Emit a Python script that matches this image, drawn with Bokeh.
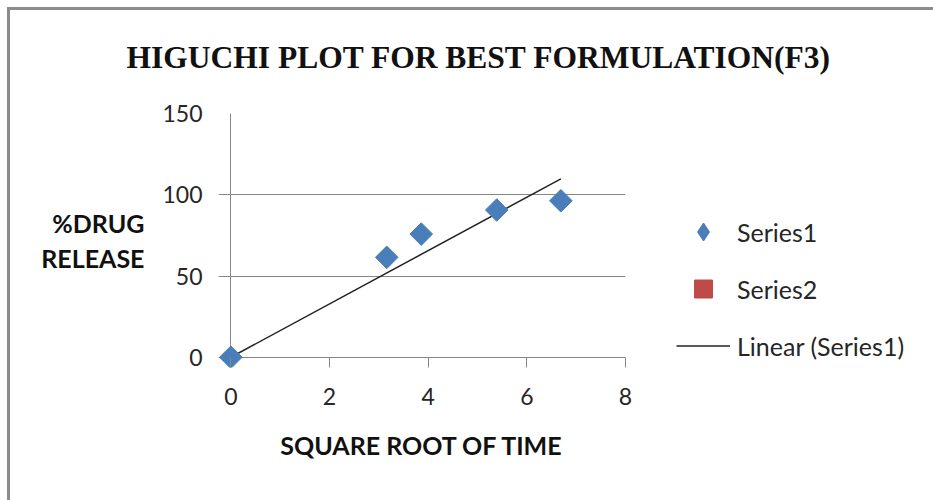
from bokeh.plotting import figure
from bokeh.models import Legend, LegendItem, FixedTicker
from bokeh.embed import file_html
from bokeh.resources import INLINE
import numpy as np
import math

# ---- data ----
sqrt_time = [0, 3.16, 3.86, 5.39, 6.69]
drug_release = [0, 61.5, 75.8, 90.6, 96.3]
series2_x = [float("nan")]   # Series2 is empty in the source chart
series2_y = [float("nan")]
x_ticks = [0, 2, 4, 6, 8]
y_ticks = [0, 50, 100, 150]
title_text = "HIGUCHI PLOT FOR BEST FORMULATION(F3)"
x_label = "SQUARE ROOT OF TIME"
y_label = "%DRUG\nRELEASE"

# linear trend line through the origin (as the spreadsheet trendline shows)
xa = np.array(sqrt_time, dtype=float)
ya = np.array(drug_release, dtype=float)
slope = float((xa * ya).sum() / (xa * xa).sum())
fit_x = [0.0, float(xa.max())]
fit_y = [slope * v for v in fit_x]

GRID = "#868686"
BLUE = "#4a7ebb"
RED = "#be4b48"

p = figure(
    frame_width=407, frame_height=254,
    x_range=(-0.25, 8), y_range=(-6.3, 150),
    output_backend="svg", toolbar_location=None,
    min_border_left=218, min_border_right=308,
    min_border_top=113, min_border_bottom=133,
)
p.background_fill_color = "white"
p.border_fill_color = None
p.outline_line_color = None
p.styles = {
    "background-image": "linear-gradient(#8c8c8c,#8c8c8c), linear-gradient(#8c8c8c,#8c8c8c)",
    "background-size": "3px 493px, 926px 3px",
    "background-position": "7px 7px, 7px 7px",
    "background-repeat": "no-repeat",
}

# title
p.title.text = title_text
p.title.text_font = "Liberation Serif"
p.title.text_font_style = "bold"
p.title.text_font_size = "31.5px"
p.title.text_color = "#111111"
p.title.align = "left"
p.title.vertical_align = "middle"
p.title.offset = -92
p.title.standoff = 75

# grid: horizontal lines (incl. the zero line acting as x axis) and the y axis line
p.ygrid.grid_line_color = GRID
p.ygrid.grid_line_width = 1
p.ygrid.ticker = FixedTicker(ticks=y_ticks)
p.xgrid.grid_line_color = GRID
p.xgrid.grid_line_width = 1
p.xgrid.ticker = FixedTicker(ticks=[0])

# axes
for ax in (p.xaxis[0], p.yaxis[0]):
    ax.axis_line_color = None
    ax.major_tick_line_color = GRID
    ax.major_tick_out = 0
    ax.major_tick_in = 0
    ax.minor_tick_line_color = None
    ax.major_label_text_font = "Lato"
    ax.major_label_text_font_size = "23px"
    ax.major_label_text_color = "#262626"
    ax.axis_label_text_font = "Lato"
    ax.axis_label_text_font_style = "bold"
    ax.axis_label_text_font_size = "25px"
    ax.axis_label_text_color = "#111111"

p.xaxis[0].ticker = FixedTicker(ticks=x_ticks)
p.xaxis[0].major_tick_in = 10
p.yaxis[0].ticker = FixedTicker(ticks=y_ticks)
p.yaxis[0].major_tick_line_color = None
p.xaxis[0].major_label_standoff = 20
p.yaxis[0].major_label_standoff = 16
p.xaxis[0].axis_label = x_label
p.xaxis[0].axis_label_standoff = 22
p.yaxis[0].axis_label = y_label
p.yaxis[0].axis_label_orientation = "horizontal"
p.yaxis[0].axis_label_text_align = "center"
p.yaxis[0].axis_label_text_line_height = 1.15
p.yaxis[0].axis_label_standoff = 15

# glyphs
line_r = p.line(fit_x, fit_y, line_color="#222222", line_width=1.5)
s1 = p.scatter(sqrt_time, drug_release, marker="square", angle=math.pi / 4,
               size=16, fill_color=BLUE, line_color=BLUE)
s1_key = p.scatter(series2_x, series2_y, marker="diamond",
                   fill_color=BLUE, line_color=BLUE)
s2 = p.scatter(series2_x, series2_y, marker="square", size=19,
               fill_color=RED, line_color=RED)

legend = Legend(
    items=[LegendItem(label="Series1", renderers=[s1_key]),
           LegendItem(label="Series2", renderers=[s2]),
           LegendItem(label="Linear (Series1)", renderers=[line_r])],
    location=(51, -1),
    glyph_width=54, glyph_height=45, label_standoff=7, spacing=12,
    padding=0, margin=0,
    border_line_color=None, background_fill_alpha=0,
    label_text_font="Lato", label_text_font_size="25px",
    label_text_color="#262626",
)
p.add_layout(legend, "right")

open("out.html", "w").write(file_html(p, INLINE))
